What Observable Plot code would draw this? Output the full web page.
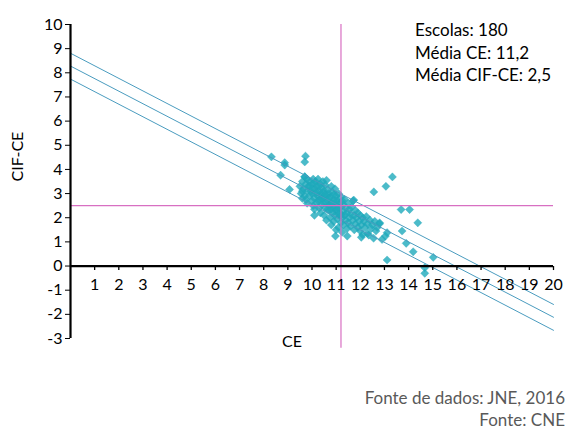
<!DOCTYPE html>
<html><head><meta charset="utf-8">
<script src="https://cdn.jsdelivr.net/npm/d3@7"></script>
<script src="https://cdn.jsdelivr.net/npm/@observablehq/plot@0.6"></script>
<style>
body{margin:0;background:#fff;font-family:Lato,sans-serif;}
#wrap{position:relative;width:571px;height:429px;overflow:hidden;}
#stats{position:absolute;left:415px;top:19px;font-size:17px;line-height:22.5px;color:#000;white-space:nowrap;}
#cap{position:absolute;right:6px;top:387px;text-align:right;color:#595959;font-size:17px;line-height:22px;white-space:nowrap;}
</style></head><body>
<div id="wrap"><div id="chart"></div>
<div id="stats"></div>
<div id="cap"></div>
</div>
<script>
// CE values (x) of the 180 schools
const ce = [
  9.5,9.55,9.6,9.6,9.65,9.7,9.7,9.75,9.8,9.8,9.8,
  9.85,9.9,9.9,9.95,10.0,10.0,10.0,10.05,10.05,10.1,10.1,10.1,
  10.15,10.15,10.2,10.2,10.25,10.25,10.3,10.3,10.3,10.35,10.35,10.4,10.4,10.4,
  10.45,10.45,10.5,10.5,10.5,10.55,10.55,10.6,10.6,10.6,10.65,10.65,10.7,10.7,10.7,
  10.75,10.75,10.8,10.8,10.8,10.85,10.85,10.9,10.9,10.9,10.95,10.95,11.0,11.0,11.0,11.0,
  11.05,11.05,11.1,11.1,11.1,11.15,11.15,11.2,11.2,11.2,11.25,11.25,11.3,11.3,11.3,
  11.35,11.35,11.4,11.4,11.45,11.45,11.5,11.5,11.55,11.55,11.6,11.6,
  11.65,11.7,11.7,11.75,11.75,11.8,11.8,11.85,11.9,11.9,
  11.95,12.0,12.0,12.05,12.1,12.1,12.15,12.2,12.25,12.3,12.3,
  12.4,12.45,12.5,12.6,12.65,12.7,12.8,
  9.6,9.75,9.9,10.0,10.1,10.2,10.25,10.3,10.4,10.45,10.5,10.55,10.6,10.65,10.7,10.75,10.8,10.85,10.9,10.95,11.0,11.05,11.1,11.2,11.25,
  8.32,8.87,8.87,8.7,9.07,9.73,9.7,9.7,10.1,10.97,11.46,12.04,12.35,12.55,12.9,13.04,13.11,12.8,12.56,13.06,13.33,11.73,13.69,14.04,14.38,13.73,13.9,14.19,15.02,13.11,14.67,14.67
];
// CIF-CE values (y)
const cifce = [
  3.3,3.0,3.5,2.8,3.2,3.7,2.9,3.4,3.1,2.6,3.6,
  3.3,2.9,3.5,3.1,2.7,3.4,3.0,3.6,2.5,3.2,2.8,2.35,
  3.0,3.5,2.6,3.3,2.9,3.6,2.4,3.1,2.75,3.4,2.2,2.95,3.25,2.55,
  3.5,2.8,2.1,3.1,2.6,3.35,2.4,2.9,1.9,3.55,2.7,3.15,2.3,2.5,3.0,
  2.0,2.85,3.3,2.6,1.7,2.2,3.05,2.45,1.85,2.75,2.1,3.2,2.55,1.5,2.9,2.3,
  1.95,2.7,2.4,3.0,1.6,2.2,2.6,1.8,2.85,2.45,2.0,1.4,2.55,2.25,1.7,
  2.1,2.75,1.9,2.4,1.55,2.2,2.6,1.8,2.35,2.0,1.65,2.15,
  2.45,1.9,2.7,2.1,1.5,2.3,1.75,2.0,1.6,2.2,
  1.85,2.1,1.45,1.7,2.0,1.3,1.85,1.6,2.05,1.75,1.35,
  1.9,1.55,1.7,1.85,1.45,1.6,1.75,
  3.1,2.75,3.3,3.2,3.45,3.05,2.7,3.3,2.8,3.05,2.85,2.95,2.6,2.35,2.8,2.55,2.35,2.6,2.95,2.4,2.7,2.35,2.15,2.1,2.7,
  4.52,4.28,4.18,3.76,3.17,4.55,4.31,3.69,2.1,1.24,1.24,1.19,1.28,1.15,1.1,1.24,1.38,1.79,3.07,3.3,3.69,2.73,2.34,2.34,1.79,1.45,0.94,0.59,0.36,0.25,-0.07,-0.3
];
const meanCE = 11.2;
const meanCIF = 2.5;
const nSchools = 180;
// Reference lines: intercept, slope and offsets of the three parallel lines
const lineIntercept = 8.28;
const lineSlope = -0.52;
const bandOffsets = [0.53, 0, -0.54];
const xTicks = d3.range(1, 21);
const yTicks = d3.range(-3, 11);
const xDomain = [0, 20];
const yDomain = [-3, 10];
const statsLines = ["Escolas: 180", "Média CE: 11,2", "Média CIF-CE: 2,5"];
const captionLines = ["Fonte de dados: JNE, 2016", "Fonte: CNE"];

const points = ce.map((x, i) => ({x, y: cifce[i]}));
const regData = bandOffsets.flatMap((o, k) => xDomain.map(x => ({x, y: lineIntercept + o + lineSlope * x, k})));

const tickSym = {draw(ctx) { ctx.moveTo(0, 0); ctx.lineTo(0, 4); }};

const chart = Plot.plot({
  width: 571, height: 360,
  marginLeft: 70, marginRight: 18, marginTop: 24, marginBottom: 22,
  style: {fontFamily: "Lato, sans-serif", fontSize: "16px", color: "#000", overflow: "visible", background: "#fff"},
  x: {domain: xDomain, axis: null},
  y: {domain: yDomain, axis: null},
  marks: [
    Plot.axisY({ticks: yTicks, tickSize: 5, tickPadding: 3, tickFormat: d => String(d), label: null, fontSize: 16}),
    Plot.dot(points, {x: "x", y: "y", symbol: "diamond2", r: 3.7, fill: "#1eaabc", fillOpacity: 0.8, stroke: "#22a6b8", strokeOpacity: 0.5, strokeWidth: 0.6}),
    Plot.line(regData, {x: "x", y: "y", z: "k", stroke: "#4a9cbf", strokeWidth: 1}),
    Plot.ruleY([meanCIF], {x1: xDomain[0], x2: xDomain[1], stroke: "#d86fc2", strokeWidth: 1.2}),
    Plot.ruleX([meanCE], {y1: yDomain[1], y2: -3.4, stroke: "#d86fc2", strokeWidth: 1.2}),
    Plot.ruleX([0], {y1: yDomain[0], y2: yDomain[1], stroke: "#000", strokeWidth: 2.2}),
    Plot.ruleY([0], {x1: xDomain[0], x2: xDomain[1], stroke: "#000", strokeWidth: 2.2}),
    Plot.dot(xTicks, {x: d => d, y: 0, symbol: tickSym, r: 1, stroke: "#000", strokeWidth: 1.3, fill: "none"}),
    Plot.text(xTicks, {x: d => d, y: 0, dy: 19, text: d => String(d), fontSize: 16, fill: "#000"}),
    Plot.text(["CE"], {frameAnchor: "bottom", dx: -20, dy: 8, fontSize: 16, fill: "#000"}),
    Plot.text(["CIF-CE"], {frameAnchor: "left", dx: -53, rotate: -90, fontSize: 16, fill: "#000"})
  ]
});
document.getElementById("chart").appendChild(chart);
document.getElementById("stats").innerHTML = statsLines.join("<br>");
document.getElementById("cap").innerHTML = captionLines.join("<br>");
</script>
</body></html>
